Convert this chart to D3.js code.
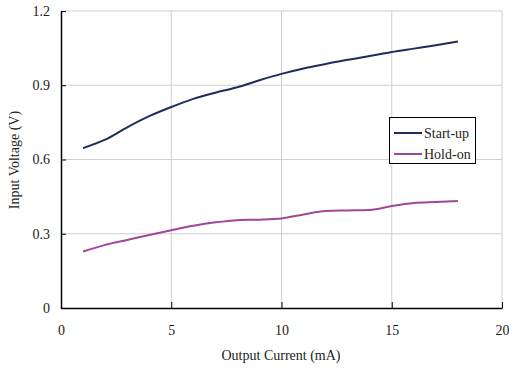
<!DOCTYPE html>
<html><head><meta charset="utf-8">
<script src="https://cdn.jsdelivr.net/npm/d3@7"></script>
<style>body{margin:0;background:#fff}svg{display:block}text{font-family:"Liberation Serif","DejaVu Serif",serif}</style>
</head><body><div id="c"></div>
<script>
const current = [1,2,3,4,5,6,7,8,9,10,11,12,13,14,15,16,17,18];
const startUp = [0.646,0.68,0.73,0.775,0.812,0.845,0.87,0.892,0.92,0.946,0.968,0.986,1.003,1.018,1.034,1.048,1.062,1.077];
const holdOn = [0.228,0.255,0.275,0.295,0.314,0.332,0.346,0.355,0.357,0.362,0.378,0.392,0.394,0.396,0.412,0.424,0.428,0.432];
const xTicks = [0,5,10,15,20];
const yTicks = [0,0.3,0.6,0.9,1.2];
const seriesNames = ["Start-up","Hold-on"];
const seriesColors = ["#1f2d5e","#a4459c"];

const W=509,H=368, L=61,R=502,T=11,B=308;
const svg=d3.select("#c").append("svg").attr("width",W).attr("height",H);
const x=d3.scaleLinear().domain([0,20]).range([L,R]);
const y=d3.scaleLinear().domain([0,1.2]).range([B,T]);

// grid
svg.append("g").selectAll("line").data(xTicks.slice(1)).join("line")
 .attr("x1",d=>x(d)).attr("x2",d=>x(d)).attr("y1",T).attr("y2",B)
 .attr("stroke","#cfcfcf").attr("stroke-width",1);
svg.append("g").selectAll("line").data(yTicks.slice(1)).join("line")
 .attr("x1",L).attr("x2",R).attr("y1",d=>y(d)).attr("y2",d=>y(d))
 .attr("stroke","#cfcfcf").attr("stroke-width",1);

// axes
const xa=svg.append("g").attr("transform",`translate(0,${B})`)
 .call(d3.axisBottom(x).tickValues(xTicks).tickSizeInner(-6).tickSizeOuter(0).tickFormat(d3.format("d")));
xa.select(".domain").attr("stroke","#000").attr("stroke-width",1.5);
xa.selectAll(".tick line").attr("stroke","#000");
xa.selectAll("text").attr("font-size",14).attr("fill","#222").attr("y",17);
const ya=svg.append("g").attr("transform",`translate(${L},0)`)
 .call(d3.axisLeft(y).tickValues(yTicks).tickSizeInner(-5).tickSizeOuter(0).tickFormat(d=>d===0?"0":d3.format(".1f")(d)));
ya.select(".domain").attr("stroke","#000").attr("stroke-width",1.5);
ya.selectAll(".tick line").attr("stroke","#000");
ya.selectAll("text").attr("font-size",14).attr("fill","#222").attr("x",-11);

// axis titles
svg.append("text").attr("x",281).attr("y",360).attr("text-anchor","middle").attr("font-size",14).attr("fill","#222").text("Output Current (mA)");
svg.append("text").attr("transform",`translate(19,160) rotate(-90)`).attr("text-anchor","middle").attr("font-size",14).attr("fill","#222").text("Input Voltage (V)");

// lines
const line=d3.line().x((d,i)=>x(current[i])).y(d=>y(d)).curve(d3.curveMonotoneX);
[startUp,holdOn].forEach((s,k)=>{
  svg.append("path").datum(s).attr("d",line).attr("fill","none").attr("stroke",seriesColors[k]).attr("stroke-width",2);
});

// legend
const lg=svg.append("g");
lg.append("rect").attr("x",389.5).attr("y",117.5).attr("width",86).attr("height",46).attr("fill","#fff").attr("stroke","#000");
seriesNames.forEach((n,k)=>{
  const yy=133+k*21;
  lg.append("line").attr("x1",394).attr("x2",422).attr("y1",yy).attr("y2",yy).attr("stroke",seriesColors[k]).attr("stroke-width",2);
  lg.append("text").attr("x",424).attr("y",yy+5).attr("font-size",14).attr("fill","#222").text(n);
});
</script></body></html>
